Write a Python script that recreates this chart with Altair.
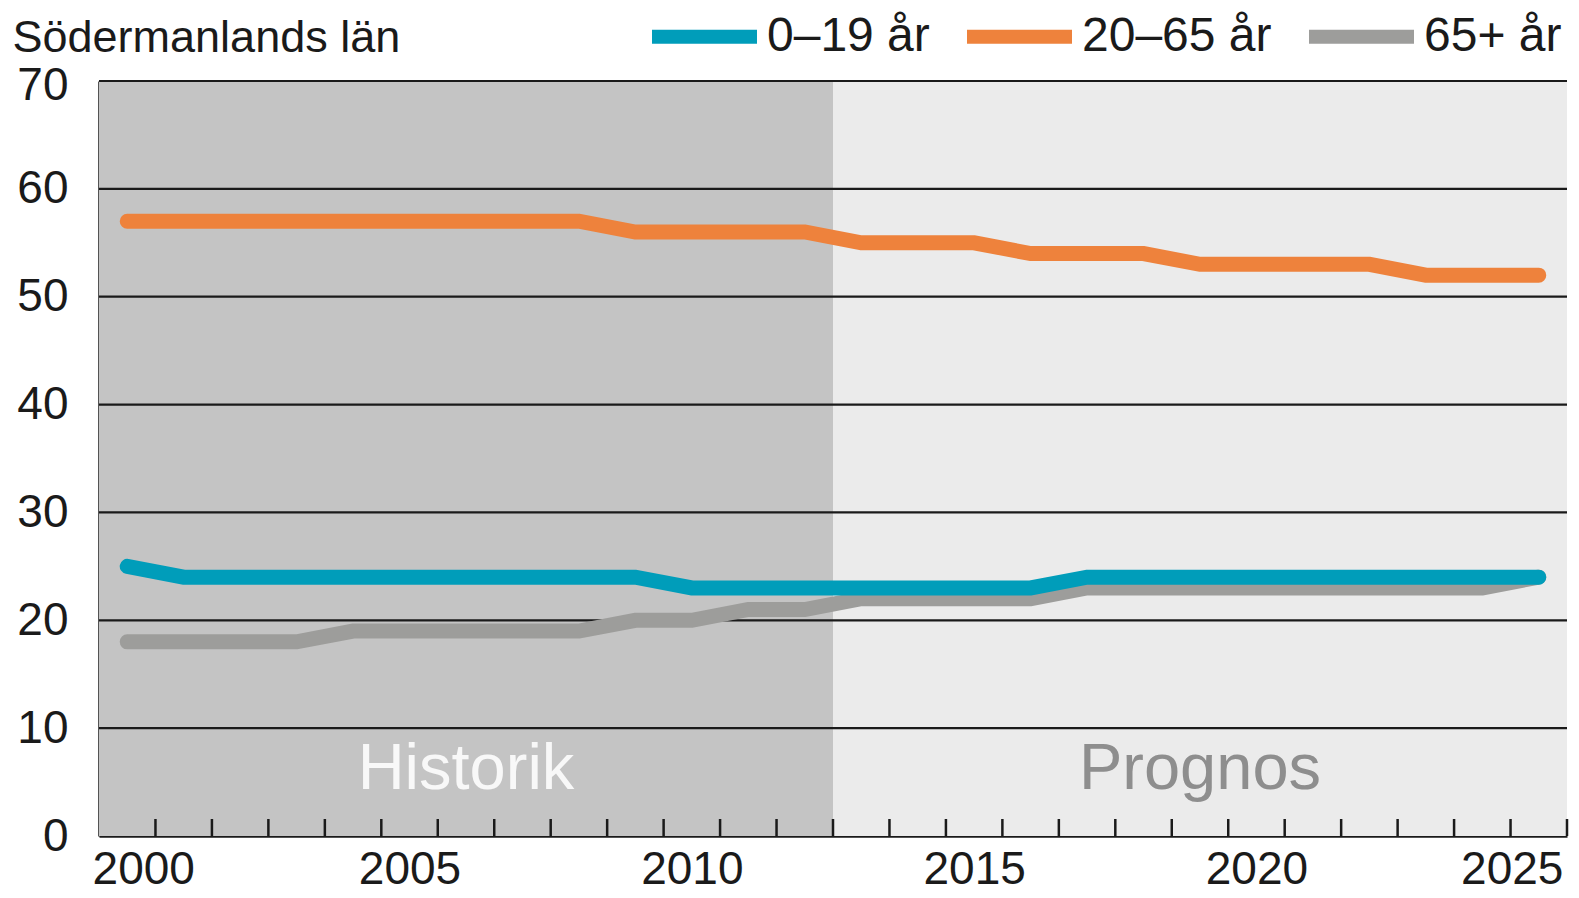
import altair as alt
import pandas as pd

# ---- data ----
years = list(range(2000, 2026))
age_0_19 = [25, 24, 24, 24, 24, 24, 24, 24, 24, 24, 23, 23, 23, 23, 23, 23, 23,
            24, 24, 24, 24, 24, 24, 24, 24, 24]
age_20_65 = [57, 57, 57, 57, 57, 57, 57, 57, 57, 56, 56, 56, 56, 55, 55, 55, 54,
             54, 54, 53, 53, 53, 53, 52, 52, 52]
age_65_plus = [18, 18, 18, 18, 19, 19, 19, 19, 19, 20, 20, 21, 21, 22, 22, 22, 22,
               23, 23, 23, 23, 23, 23, 23, 23, 24]
series_names = ["0–19 år", "20–65 år", "65+ år"]
series_colors = ["#009dba", "#ee823c", "#9d9d9b"]
periods = ["Historik", "Prognos"]
period_first = [2000, 2013]
period_last = [2012, 2025]
period_fill = ["#c4c4c4", "#ebebeb"]
period_text = ["#f8f8f8", "#8e8e8e"]
y_ticks = [0, 10, 20, 30, 40, 50, 60, 70]
x_label_years = [2000, 2005, 2010, 2015, 2020, 2025]
title_text = "Södermanlands län"

FONT = "Liberation Sans"
INK = "#1a1a1a"
W, H = 1468, 755

rows = []
# draw order: grey first, blue last (on top)
for name, vals in [("65+ år", age_65_plus), ("20–65 år", age_20_65), ("0–19 år", age_0_19)]:
    for yr, v in zip(years, vals):
        rows.append({"year": yr, "value": v, "series": name})
lines_df = pd.DataFrame(rows)

periods_df = pd.DataFrame({
    "period": periods, "first": period_first, "last": period_last,
    "fill": period_fill, "text_color": period_text,
})
grid_df = pd.DataFrame({"y": y_ticks[1:]})
ticks_df = pd.DataFrame({"year": years})

x_scale = alt.Scale(domain=[years[0] - 0.5, years[-1] + 0.5], nice=False, zero=False)
y_scale = alt.Scale(domain=[y_ticks[0], y_ticks[-1]], nice=False, zero=False)

x_axis = alt.Axis(
    values=x_label_years, format="d", ticks=False, grid=False,
    domainColor=INK, domainWidth=2.5, labelFontSize=46, labelFont=FONT,
    labelColor=INK, labelPadding=11, title=None,
    labelOffset={
        "condition": [
            {"test": f"datum.value == {x_label_years[0]}", "value": 16},
            {"test": f"datum.value == {x_label_years[-1]}", "value": -27},
        ],
        "value": 0,
    },
)
y_axis = alt.Axis(values=y_ticks, ticks=False, grid=False, domainColor=INK,
                  domainWidth=2.5, labelFontSize=46, labelFont=FONT, labelColor=INK,
                  labelPadding=31, labelBaseline="middle",
                  labelOffset={
                      "condition": [
                          {"test": f"datum.value == {y_ticks[-1]}", "value": 4},
                      ],
                      "value": 0,
                  },
                  title=title_text, titleAngle=0, titleAlign="left",
                  titleBaseline="alphabetic", titleX=-87, titleY=-30,
                  titleFontSize=45, titleFont=FONT, titleFontWeight="normal",
                  titleColor=INK)

bg = alt.Chart(periods_df).transform_calculate(
    x0="datum.first - 0.5", x1="datum.last + 0.5"
).mark_rect().encode(
    x=alt.X("x0:Q", scale=x_scale, axis=x_axis),
    x2="x1:Q",
    y=alt.Y(datum=y_ticks[0], scale=y_scale, axis=y_axis),
    y2=alt.Y2(datum=y_ticks[-1]),
    fill=alt.Fill("fill:N", scale=None),
)

grid = alt.Chart(grid_df).mark_rule(color=INK, strokeWidth=2.2).encode(
    y=alt.Y("y:Q", scale=y_scale, axis=y_axis),
)

ticks = alt.Chart(ticks_df).transform_calculate(
    xb="datum.year + 0.5"
).mark_rule(color=INK, strokeWidth=2.5).encode(
    x=alt.X("xb:Q", scale=x_scale, axis=x_axis),
    y=alt.value(H),
    y2=alt.value(H - 17),
)

labels = alt.Chart(periods_df).transform_calculate(
    mid="(datum.first + datum.last) / 2"
).mark_text(fontSize=65, font=FONT, baseline="alphabetic", align="center").encode(
    x=alt.X("mid:Q", scale=x_scale, axis=x_axis),
    y=alt.value(H - 47),
    text="period:N",
    fill=alt.Fill("text_color:N", scale=None),
)

lines = alt.Chart(lines_df).mark_line(strokeWidth=15, strokeCap="round").encode(
    x=alt.X("year:Q", scale=x_scale, axis=x_axis),
    y=alt.Y("value:Q", scale=y_scale, axis=y_axis),
    color=alt.Color(
        "series:N",
        scale=alt.Scale(domain=series_names, range=series_colors),
        legend=alt.Legend(
            orient="none", legendX=546, legendY=-104, direction="horizontal",
            title=None, symbolType="stroke", symbolSize=11025,
            symbolStrokeWidth=14, labelFontSize=48, labelFont=FONT,
            labelColor=INK, labelOffset=3, columnPadding=9, padding=0,
            labelLimit=400,
        ),
    ),
)

chart = alt.layer(bg, grid, ticks, labels, lines).properties(
    width=W, height=H,
    padding={"left": 91, "top": 73, "right": 3, "bottom": 68},
    autosize=alt.AutoSizeParams(type="none"),
).configure_view(stroke=None)

chart.save("out.html", embed_options={"renderer": "svg", "actions": False})
